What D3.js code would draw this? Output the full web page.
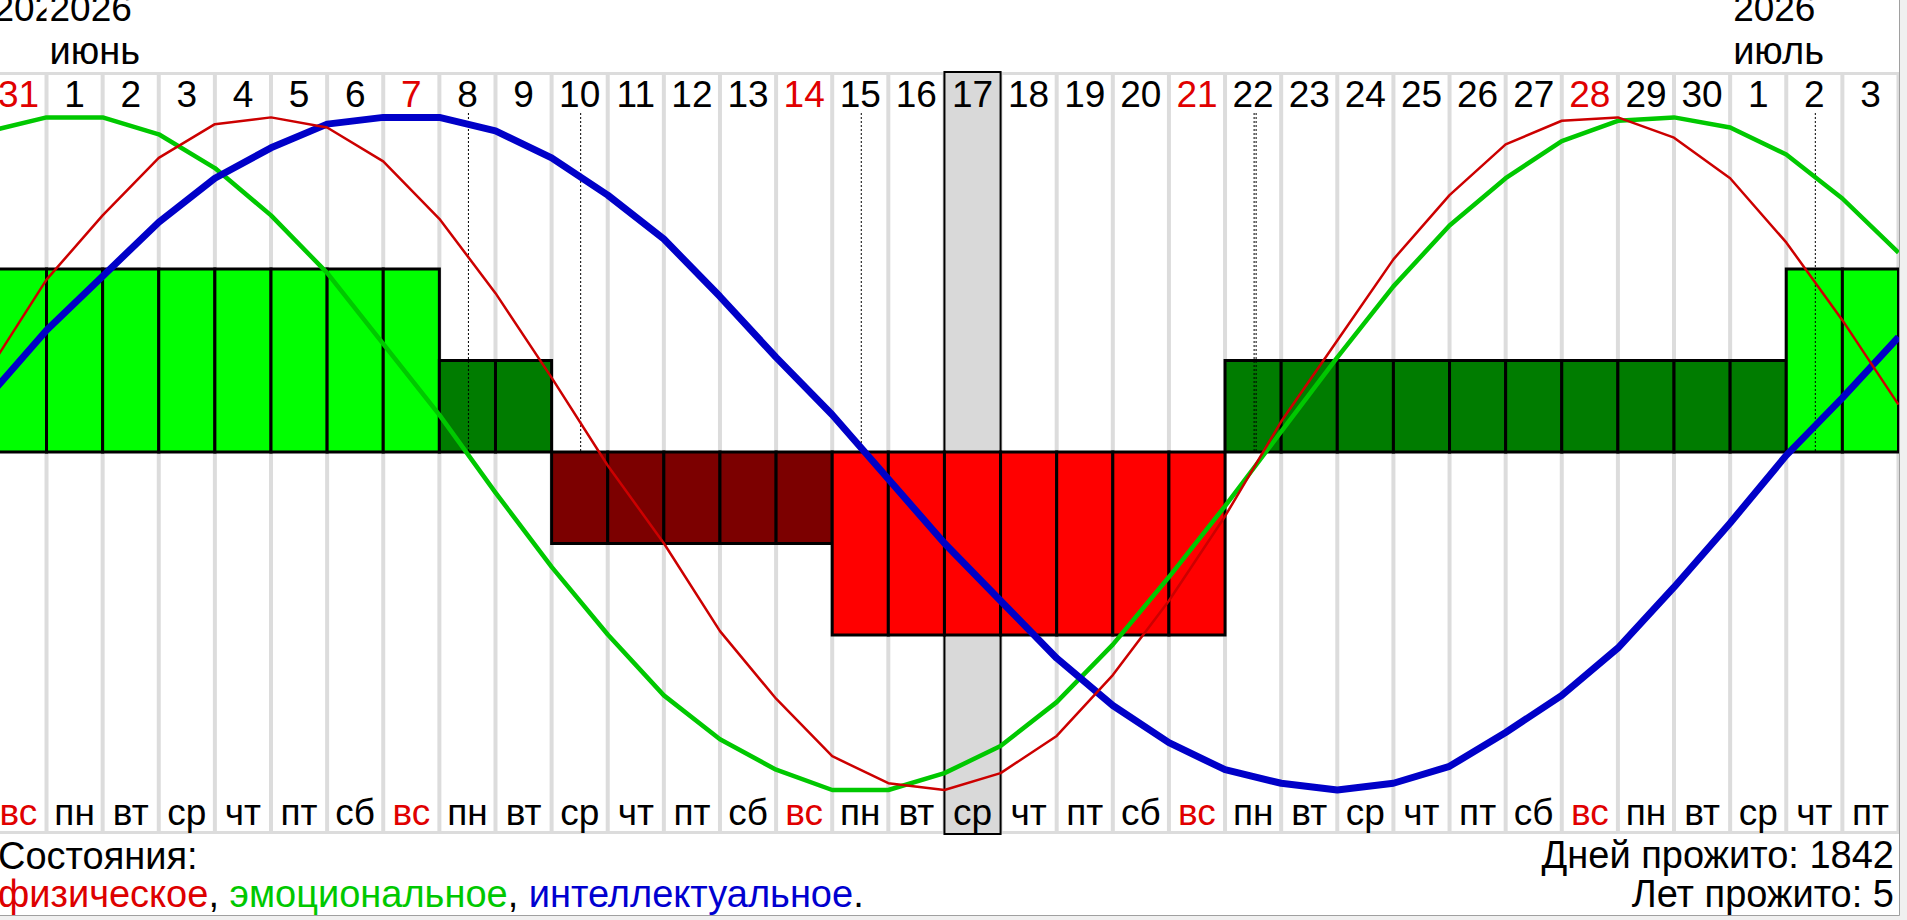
<!DOCTYPE html>
<html lang="ru">
<head>
<meta charset="utf-8">
<title>Биоритмы</title>
<script src="https://cdn.jsdelivr.net/npm/d3@7"></script>
<style>
  body { margin: 0; background: #f0f0f0; overflow: hidden; }
  svg { display: block; }
  text { font-family: "Liberation Sans", Arial, sans-serif; font-size: 37px; }
  .caption { font-size: 38px; }
</style>
</head>
<body>
<script>
// shown period: 31 May .. 3 July 2026
const firstDay = new Date(Date.UTC(2026, 4, 31));
const endDay = new Date(Date.UTC(2026, 6, 4));   // exclusive
const selectedDay = new Date(Date.UTC(2026, 5, 17));

const weekdayNames = ["вс", "пн", "вт", "ср", "чт", "пт", "сб"];
const monthNames = ["январь", "февраль", "март", "апрель", "май", "июнь",
                    "июль", "август", "сентябрь", "октябрь", "ноябрь", "декабрь"];

// rhythm values at the start of each day, 31 May .. 4 July (35 points)
const physical = [0.25, 0.51, 0.70, 0.87, 0.97, 0.99, 0.96, 0.86, 0.69, 0.47,
                  0.22, -0.04, -0.27, -0.53, -0.73, -0.90, -0.98, -1.00, -0.95, -0.84,
                  -0.66, -0.44, -0.19, 0.09, 0.33, 0.57, 0.76, 0.91, 0.98, 0.99,
                  0.93, 0.81, 0.62, 0.39, 0.14];
const emotional = [0.95, 0.99, 0.99, 0.94, 0.84, 0.70, 0.53, 0.32, 0.11, -0.12,
                   -0.34, -0.54, -0.72, -0.85, -0.94, -1.00, -1.00, -0.95, -0.87, -0.74,
                   -0.57, -0.37, -0.16, 0.06, 0.28, 0.49, 0.67, 0.81, 0.92, 0.98,
                   0.99, 0.96, 0.88, 0.75, 0.59];
const intellectual = [0.17, 0.36, 0.52, 0.68, 0.81, 0.90, 0.97, 0.99, 0.99, 0.95,
                      0.87, 0.76, 0.63, 0.46, 0.28, 0.11, -0.08, -0.27, -0.44, -0.61,
                      -0.75, -0.86, -0.94, -0.98, -1.00, -0.98, -0.93, -0.83, -0.72, -0.58,
                      -0.40, -0.21, -0.01, 0.16, 0.34];

// day state, one per day 31 May .. 3 July (34 days)
const state = [1, 1, 1, 1, 1, 1, 1, 1, 0.5, 0.5,
               -0.5, -0.5, -0.5, -0.5, -0.5, -1, -1, -1, -1, -1,
               -1, -1, 0.5, 0.5, 0.5, 0.5, 0.5, 0.5, 0.5, 0.5,
               0.5, 0.5, 1, 1];

const daysLived = 1842;
const yearsLived = 5;

const width = 1907, height = 920;
const panelW = 1899, panelH = 915;
const gridTop = 72, gridBottom = 834;

const days = d3.utcDays(firstDay, endDay);
const ticks = d3.utcDays(firstDay, d3.utcDay.offset(endDay, 1));

const x = d3.scaleUtc().domain([firstDay, endDay]).range([-9.6, 1898.5]);
const colW = x(d3.utcDay.offset(firstDay, 1)) - x(firstDay);
const y = d3.scaleLinear().domain([-1, 1]).range([790, 114]);
const yBar = d3.scaleLinear().domain([-1, 1]).range([635, 269]);

const barColor = d3.scaleOrdinal()
  .domain([1, 0.5, -0.5, -1])
  .range(["#00ff00", "#007c00", "#7c0000", "#ff0000"]);

const svg = d3.select("body").append("svg")
  .attr("width", width)
  .attr("height", height);

svg.append("rect")
  .attr("width", panelW).attr("height", panelH)
  .attr("fill", "#ffffff");

svg.append("clipPath").attr("id", "panel")
  .append("rect").attr("width", panelW).attr("height", panelH);

const g = svg.append("g").attr("clip-path", "url(#panel)");

// day separators
g.append("g").selectAll("line").data(ticks).join("line")
  .attr("x1", d => x(d)).attr("x2", d => x(d))
  .attr("y1", gridTop).attr("y2", gridBottom)
  .attr("stroke", "#dcdcdc").attr("stroke-width", 4);

g.append("g").selectAll("line").data([gridTop + 1.5, gridBottom - 1.5]).join("line")
  .attr("x1", 0).attr("x2", panelW)
  .attr("y1", d => d).attr("y2", d => d)
  .attr("stroke", "#dcdcdc").attr("stroke-width", 3);

// selected day
g.append("rect")
  .attr("x", x(selectedDay))
  .attr("y", gridTop)
  .attr("width", colW)
  .attr("height", gridBottom - gridTop)
  .attr("fill", "#d9d9d9")
  .attr("stroke", "#000").attr("stroke-width", 2);

// years and months, each clipped to its own columns
const months = d3.groups(days, d => d.getUTCMonth());
const mg = g.append("g");
months.forEach(([m, list], k) => {
  const x0 = x(list[0]);
  const x1 = x(d3.utcDay.offset(list[list.length - 1], 1));
  mg.append("clipPath").attr("id", "month" + k)
    .append("rect").attr("x", x0).attr("y", 0).attr("width", x1 - x0).attr("height", gridTop);
  const lg = mg.append("g").attr("clip-path", `url(#month${k})`);
  lg.append("text").attr("x", x0 + 3).attr("y", 21)
    .text(list[0].getUTCFullYear());
  if (x1 - x0 > 100) {
    lg.append("text").attr("class", "caption").attr("x", x0 + 3).attr("y", 64)
      .text(monthNames[m]);
  }
});

// day numbers and weekdays
g.append("g").selectAll("text").data(days).join("text")
  .attr("x", d => x(d) + colW / 2)
  .attr("y", 107)
  .attr("text-anchor", "middle")
  .attr("fill", d => d.getUTCDay() === 0 ? "#e00000" : "#000")
  .text(d => d.getUTCDate());

g.append("g").selectAll("text").data(days).join("text")
  .attr("x", d => x(d) + colW / 2)
  .attr("y", 825)
  .attr("text-anchor", "middle")
  .attr("fill", d => d.getUTCDay() === 0 ? "#e00000" : "#000")
  .text(d => weekdayNames[d.getUTCDay()]);

// state bars
g.append("g").selectAll("rect").data(days).join("rect")
  .attr("x", d => x(d))
  .attr("width", colW)
  .attr("y", (d, i) => yBar(Math.max(0, state[i])))
  .attr("height", (d, i) => Math.abs(yBar(state[i]) - yBar(0)))
  .attr("fill", (d, i) => barColor(state[i]))
  .attr("stroke", "#000").attr("stroke-width", 3);

// days where a rhythm crosses zero
const series = [
  {name: "physical", values: physical, color: "#cc0000", width: 2.5},
  {name: "emotional", values: emotional, color: "#00c800", width: 4.5},
  {name: "intellectual", values: intellectual, color: "#0000c8", width: 7}
];
const marks = [];
series.forEach(s => {
  days.forEach((d, i) => {
    if (Math.sign(s.values[i]) !== Math.sign(s.values[i + 1])) {
      const n = marks.filter(m => +m.day === +d).length;
      marks.push({day: d, shift: 1 + 2 * n});
    }
  });
});
g.append("g").selectAll("line").data(marks).join("line")
  .attr("x1", d => x(d.day) + colW / 2 + d.shift)
  .attr("x2", d => x(d.day) + colW / 2 + d.shift)
  .attr("y1", 113).attr("y2", y(0))
  .attr("stroke", "#000").attr("stroke-width", 1)
  .attr("stroke-dasharray", "2,2");

// rhythm curves
const line = d3.line()
  .x((v, i) => x(ticks[i]))
  .y(v => y(v));
[series[1], series[2], series[0]].forEach(s => {
  g.append("path")
    .attr("d", line(s.values))
    .attr("fill", "none")
    .attr("stroke", s.color)
    .attr("stroke-width", s.width)
    .attr("stroke-linejoin", "round");
});

// captions
g.append("text").attr("class", "caption").attr("x", -2).attr("y", 869).text("Состояния:");
const legend = g.append("text").attr("class", "caption").attr("x", -2).attr("y", 907);
[["физическое", "#dd0000"], [", ", "#000"], ["эмоциональное", "#00c800"],
 [", ", "#000"], ["интеллектуальное", "#0000d0"], [".", "#000"]]
  .forEach(([t, c]) => legend.append("tspan").attr("fill", c).text(t));

g.append("text").attr("class", "caption").attr("x", 1894).attr("y", 868)
  .attr("text-anchor", "end")
  .text("Дней прожито: " + daysLived);
g.append("text").attr("class", "caption").attr("x", 1894).attr("y", 907)
  .attr("text-anchor", "end")
  .text("Лет прожито: " + yearsLived);

// panel border
svg.append("path")
  .attr("d", `M${panelW + 0.5},0V${panelH + 0.5}H0`)
  .attr("fill", "none")
  .attr("stroke", "#a0a0a0");
</script>
</body>
</html>
